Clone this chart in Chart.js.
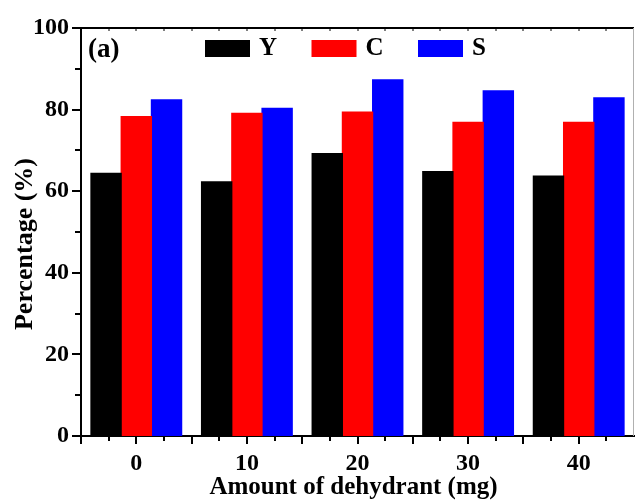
<!DOCTYPE html>
<html>
<head>
<meta charset="utf-8">
<script src="https://cdn.jsdelivr.net/npm/chart.js@4.4.0/dist/chart.umd.min.js"></script>
<style>
  html, body { margin: 0; padding: 0; background: #fff; overflow: hidden; }
  #wrap { width: 635px; height: 503px; }
</style>
</head>
<body>
<div id="wrap"><canvas id="barChart" width="635" height="503"></canvas></div>
<script>
// Data
const categories = ['0', '10', '20', '30', '40'];
const seriesNames = ['Y', 'C', 'S'];
const seriesColors = ['#000000', '#ff0000', '#0000ff'];
const yValues = [64.4, 62.3, 69.2, 64.8, 63.7];
const cValues = [78.3, 79.1, 79.4, 76.9, 76.9];
const sValues = [82.4, 80.3, 87.3, 84.6, 82.9];
const yTickStep = 20;
const yMin = 0;
const yMax = 100;

const SERIF = "'Liberation Serif', 'Times New Roman', serif";

/**
 * Axis furniture the library does not draw itself: minor ticks,
 * the top/right frame, the in-plot legend, the panel tag and axis titles.
 */
const framePlugin = {
    id: 'frame',
    afterDraw(chart) {
        const { ctx, chartArea: area, scales } = chart;
        const x = scales.x, y = scales.y;
        ctx.save();

        // top frame line
        ctx.strokeStyle = '#000';
        ctx.lineWidth = 2;
        ctx.beginPath();
        ctx.moveTo(area.left - 1, area.top);
        ctx.lineTo(area.right, area.top);
        ctx.stroke();

        // right frame (light, as in the clipped original)
        ctx.strokeStyle = '#b0b0b0';
        ctx.lineWidth = 1;
        ctx.beginPath();
        ctx.moveTo(area.right - 0.5, area.top);
        ctx.lineTo(area.right - 0.5, area.bottom);
        ctx.stroke();

        // y ticks: major every 20, minor every 10, pointing outwards
        ctx.strokeStyle = '#000';
        ctx.lineWidth = 2;
        for (let v = yMin; v <= yMax; v += yTickStep / 2) {
            const py = Math.round(y.getPixelForValue(v));
            const len = (v % yTickStep === 0) ? 8 : 5;
            ctx.beginPath();
            ctx.moveTo(area.left - len - 1, py);
            ctx.lineTo(area.left - 1, py);
            ctx.stroke();
        }

        // x ticks: major at category centres and edges, minor in between
        const catW = x.getPixelForValue(1) - x.getPixelForValue(0);
        const offs = [-0.5, -0.25, 0, 0.25];
        for (let i = 0; i < categories.length; i++) {
            const c = x.getPixelForValue(i);
            offs.forEach(o => {
                const px = Math.round(c + o * catW);
                const len = (o === -0.5 || o === 0) ? 8 : 5;
                ctx.lineWidth = 2;
                ctx.beginPath();
                ctx.moveTo(px, area.bottom);
                ctx.lineTo(px, area.bottom + len);
                ctx.stroke();
                // tiny inward ticks on the top frame
                ctx.lineWidth = 1;
                ctx.beginPath();
                ctx.moveTo(px, area.top);
                ctx.lineTo(px, area.top + 3);
                ctx.stroke();
            });
        }

        // legend inside the plot
        ctx.textBaseline = 'alphabetic';
        ctx.textAlign = 'left';
        ctx.font = "bold 25px " + SERIF;
        chart.data.datasets.forEach((ds, i) => {
            const bx = area.left + 124 + i * 106.5;
            ctx.fillStyle = ds.backgroundColor;
            ctx.fillRect(bx, 40, 45, 17);
            ctx.fillStyle = '#000';
            ctx.fillText(ds.label, bx + 54, 55);
        });

        // panel tag
        ctx.font = "bold 27px " + SERIF;
        ctx.fillText('(a)', area.left + 7, 57);

        // axis titles
        ctx.textAlign = 'center';
        ctx.font = "bold 25px " + SERIF;
        ctx.fillText('Amount of dehydrant (mg)', 353.5, 494);

        ctx.save();
        ctx.translate(32, 244);
        ctx.rotate(-Math.PI / 2);
        ctx.font = "bold 26px " + SERIF;
        ctx.fillText('Percentage (%)', 0, 0);
        ctx.restore();

        ctx.restore();
    }
};

document.addEventListener('DOMContentLoaded', () => {
    const ctx = document.getElementById('barChart').getContext('2d');
    const valueSets = [yValues, cValues, sValues];

    new Chart(ctx, {
        type: 'bar',
        data: {
            labels: categories,
            datasets: seriesNames.map((name, i) => ({
                label: name,
                data: valueSets[i],
                backgroundColor: seriesColors[i],
                borderWidth: 0,
                inflateAmount: 0.6,
                categoryPercentage: 0.82,
                barPercentage: 1.0
            }))
        },
        options: {
            responsive: false,
            animation: false,
            devicePixelRatio: 1,
            layout: { padding: { top: 28, right: 1, left: 0, bottom: 0 } },
            plugins: { legend: { display: false }, tooltip: { enabled: false } },
            scales: {
                x: {
                    type: 'category',
                    offset: true,
                    grid: { display: false, drawTicks: false },
                    border: { display: true, color: '#000', width: 2 },
                    ticks: { color: '#000', padding: 13, font: { family: SERIF, size: 24, weight: 'bold' } },
                    afterFit: (scale) => { scale.height = 67; }
                },
                y: {
                    min: yMin,
                    max: yMax,
                    grid: { display: false, drawTicks: false },
                    border: { display: true, color: '#000', width: 2 },
                    ticks: { stepSize: yTickStep, color: '#000', padding: 12, font: { family: SERIF, size: 24, weight: 'bold' } },
                    afterFit: (scale) => { scale.width = 81; }
                }
            }
        },
        plugins: [framePlugin]
    });
});
</script>
</body>
</html>
